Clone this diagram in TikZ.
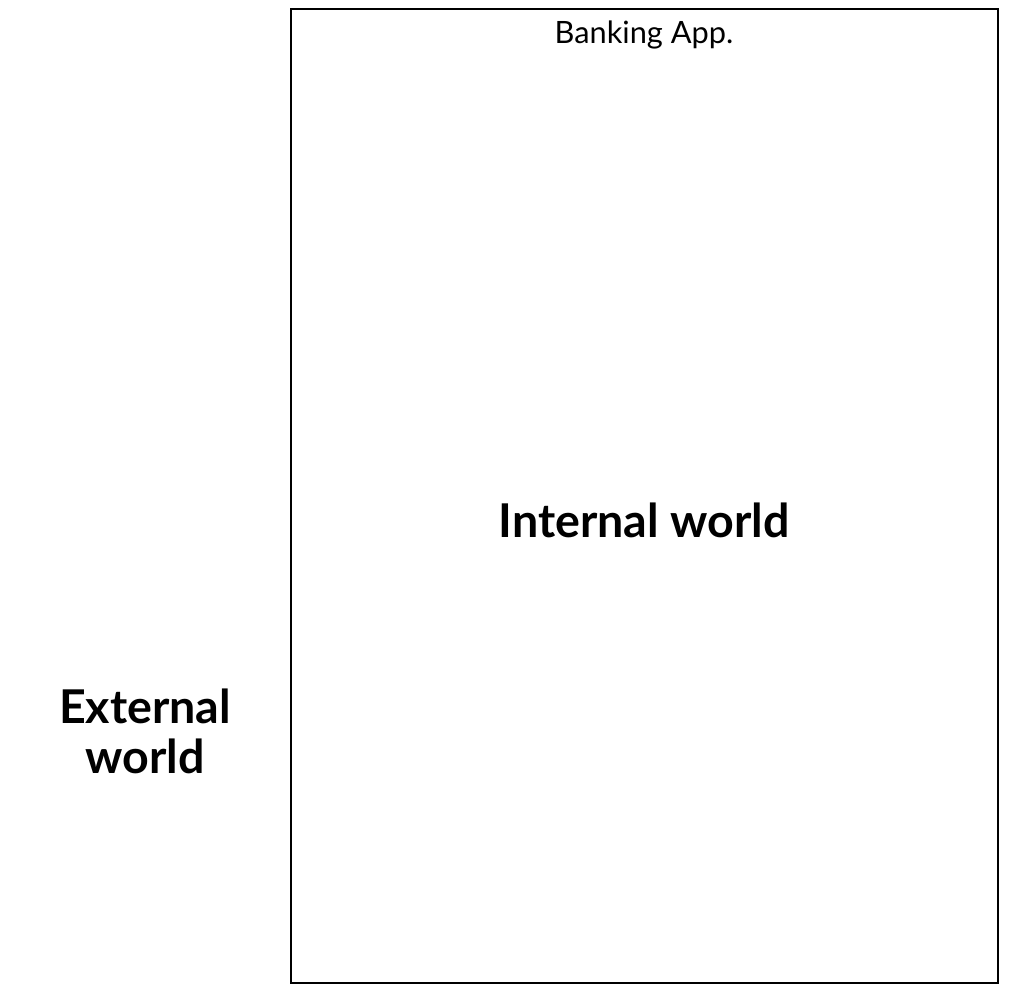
\documentclass[tikz,border=0pt]{standalone}
\usepackage{fontspec}
\setmainfont{Lato}
\begin{document}
\begin{tikzpicture}[x=0.02cm,y=-0.02cm,
  frame/.style={draw=black,line width=1.2pt},
  small/.style={font=\fontsize{17.5}{20}\selectfont},
  big/.style={font=\fontsize{26.5}{28.5}\selectfont\bfseries,align=center}]
\useasboundingbox (0,0) rectangle (1027,1000);
\node[frame,minimum width=707*0.02cm,minimum height=974*0.02cm,inner sep=0pt] (app) at (644.5,496) {};
\node[small,anchor=north] (title) at (644,15) {Banking App.};
\node[big] (internal) at (644,520) {Internal world};
\node[big] (external) at (145,731) {External\\world};
\end{tikzpicture}
\end{document}
